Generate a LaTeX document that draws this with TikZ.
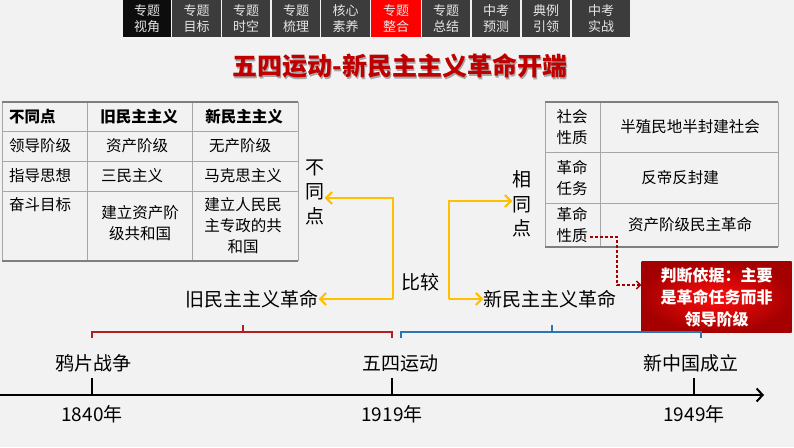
\documentclass[tikz,border=0pt]{standalone}
\usepackage{fontspec}
\setmainfont{Noto Sans CJK SC}
\usetikzlibrary{arrows.meta}
\definecolor{bgc}{HTML}{F2F2F2}
\definecolor{navblk}{HTML}{0D0D0D}
\definecolor{navgry}{HTML}{3C3C3C}
\definecolor{navred}{HTML}{FF0000}
\definecolor{navtxt}{HTML}{E6E6E6}
\definecolor{ttlred}{HTML}{C00000}
\definecolor{grid}{HTML}{A6A6A6}
\definecolor{gridd}{HTML}{7F7F7F}
\definecolor{ylw}{HTML}{FFC000}
\definecolor{dred}{HTML}{A50000}
\definecolor{brred}{HTML}{B41E1E}
\definecolor{brblue}{HTML}{2E75B6}
\tikzset{
  navbtn/.style={minimum height=37pt, inner sep=0pt, text=navtxt, align=center, font=\fontsize{13}{16}\selectfont},
  cell/.style={inner sep=0pt, align=center, font=\fontsize{15.5}{21}\selectfont},
  hcell/.style={cell, font=\fontsize{15.5}{21}\selectfont\bfseries},
  big/.style={inner sep=0pt, align=center, font=\fontsize{19}{24}\selectfont},
  yarrow/.style={draw=ylw, line width=2.4pt, -{Straight Barb[length=6pt,width=12pt,line width=2pt]}},
  tline/.style={draw=grid, line width=0.7pt},
  tlined/.style={draw=gridd, line width=1.3pt},
}
\begin{document}
\begin{tikzpicture}[x=1pt,y=-1pt]
\fill[bgc] (0,0) rectangle (794,447);
\useasboundingbox (0,0) rectangle (794,447);

% navigation bar
\foreach \i/\a/\b/\t/\c in {0/123/171/专题\\视角/navblk,1/172/221/专题\\目标/navgry,2/222/270/专题\\时空/navgry,3/272/320/专题\\梳理/navgry,4/321/370/核心\\素养/navgry,5/371/421/专题\\整合/navred,6/422/470/专题\\总结/navgry,7/472/520/中考\\预测/navgry,8/522/570/典例\\引领/navgry,9/572/630/中考\\实战/navgry}
  \node[navbtn, fill=\c, minimum width={(\b-\a)*1pt}] (nav\i) at ({(\a+\b)/2},18.5) {\t};

% title
\node[inner sep=0pt, text=black!35, font=\fontsize{25}{30}\selectfont\bfseries] (titleshadow) at (401,67.5) {五四运动-新民主主义革命开端};
\node[inner sep=0pt, text=ttlred, font=\fontsize{25}{30}\selectfont\bfseries] (title) at (400,66) {五四运动-新民主主义革命开端};

% left table
\foreach \y in {131,161,191} \draw[tline] (2,\y) -- (298,\y);
\foreach \x in {87,192} \draw[tline] (\x,102) -- (\x,261);
\draw[tline] (2,102) -- (2,261);
\draw[tline] (298,102) -- (298,261);
\draw[tlined] (2,102) -- (298,102);
\draw[tlined] (2,261) -- (298,261);

\node[hcell, anchor=west] (h1) at (9,117) {不同点};
\node[hcell] (h2) at (139,117) {旧民主主义};
\node[hcell] (h3) at (244,117) {新民主主义};
\node[cell, anchor=west] (r1a) at (9,146) {领导阶级};
\node[cell] (r1b) at (137,146) {资产阶级};
\node[cell] (r1c) at (240,146) {无产阶级};
\node[cell, anchor=west] (r2a) at (9,176) {指导思想};
\node[cell] (r2b) at (132,176) {三民主义};
\node[cell] (r2c) at (243,176) {马克思主义};
\node[cell, anchor=west] (r3a) at (9,205) {奋斗目标};
\node[cell] (r3b) at (140,223) {建立资产阶\\级共和国};
\node[cell] (r3c) at (243,226) {建立人民民\\主专政的共\\和国};

% 不同点 / 相同点 vertical labels
\node[big, font=\fontsize{19}{24.5}\selectfont] (btd) at (315,192) {不\\同\\点};
\node[big, font=\fontsize{19}{24.5}\selectfont] (xtd) at (522,204) {相\\同\\点};

% right table
\draw[tline] (545,152) -- (778,152);
\draw[tline] (545,203) -- (778,203);
\draw[tline] (600,102) -- (600,247);
\draw[tline] (545,102) -- (545,247);
\draw[tline] (778,102) -- (778,247);
\draw[tlined] (545,102) -- (778,102);
\draw[tlined] (545,247) -- (778,247);

\node[cell] (s1a) at (572,127) {社会\\性质};
\node[cell] (s1b) at (690,127) {半殖民地半封建社会};
\node[cell] (s2a) at (572,178) {革命\\任务};
\node[cell] (s2b) at (680,178) {反帝反封建};
\node[cell] (s3a) at (572,225) {革命\\性质};
\node[cell] (s3b) at (690,225) {资产阶级民主革命};

% comparison arrows
\node[big] (old) at (252,299) {旧民主主义革命};
\node[big] (new) at (550,299) {新民主主义革命};
\node[big] (cmp) at (420,282) {比较};
\coordinate (j1) at (393,299);
\coordinate (j2) at (449,299);
\coordinate (k1) at (393,198);
\coordinate (k2) at (449,201);
\draw[yarrow] (j1) -- (old.east);
\draw[yarrow] (j2) -- (new.west);
\draw[yarrow] (j1) -- (k1) -- (btd.east |- k1);
\draw[yarrow] (j2) -- (k2) -- (xtd.west |- k2);

% red judgement box
\node[inner sep=0pt, minimum width=150pt, minimum height=71pt, shading=radial, inner color=red!95!white, outer color=dred, text=white, align=center, font=\fontsize{16}{22}\selectfont\bfseries] (rbox) at (716.5,297) {判断依据：主要\\是革命任务而非\\领导阶级};
\coordinate (d0) at (590,237);
\coordinate (d1) at (617,285);
\draw[dred, line width=1.4pt, dashed, dash pattern=on 3pt off 2pt, -{Straight Barb[length=4pt,width=8pt]}] (d0) -| (d1) -- (rbox.west |- d1);

% brackets
\draw[brred, line width=1.5pt] (92,338) -- (92,332) -- (392,332) -- (392,338);
\draw[brred, line width=1.5pt] (243,332) -- (243,325);
\draw[brblue, line width=1.5pt] (401,338) -- (401,332) -- (701,332) -- (701,338);
\draw[brblue, line width=1.5pt] (552,332) -- (552,325);

% timeline
\coordinate (t0) at (0,395);
\coordinate (t1) at (764,395);
\draw[line width=2.2pt, -{Straight Barb[length=6pt,width=13pt,line width=2pt]}] (t0) -- (t1);
\foreach \n/\x in {a/92,b/392,c/694} {
  \draw[line width=1.6pt] (\x,378) -- (\x,395);
}
\node[big] (e1) at (93,363) {鸦片战争};
\node[big] (e2) at (400,363) {五四运动};
\node[big] (e3) at (691,363) {新中国成立};
\node[big] (y1) at (92,414) {1840年};
\node[big] (y2) at (392,414) {1919年};
\node[big] (y3) at (694,414) {1949年};
\end{tikzpicture}
\end{document}
